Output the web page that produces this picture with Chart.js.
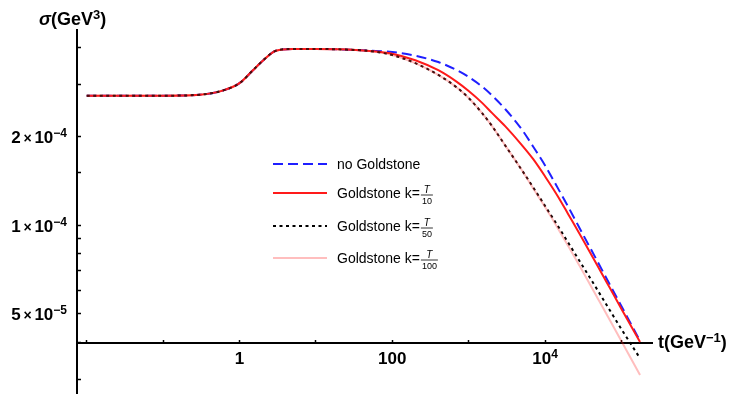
<!DOCTYPE html>
<html>
<head>
<meta charset="utf-8">
<script src="https://cdn.jsdelivr.net/npm/chart.js@4.4.0/dist/chart.umd.min.js"></script>
<style>
  html, body { margin: 0; padding: 0; background: #fff; }
  #wrap { position: relative; width: 732px; height: 394px; }
</style>
</head>
<body>
<div id="wrap"><canvas id="sigmaChart"></canvas></div>
<script>
// t in GeV^-1, sigma in GeV^3
const times = [0.01, 0.03, 0.1, 0.3, 0.6, 1, 1.5, 2, 3, 5, 10, 20, 50,
  100, 200, 400, 700, 1000, 1500, 2000, 3000, 5000, 7000,
  1e4, 1.5e4, 2e4, 3e4, 5e4, 7e4, 1e5, 1.75e5];

const sigmaNoGoldstone = [2.74e-4, 2.74e-4, 2.74e-4, 2.76e-4, 2.85e-4, 3.02e-4, 3.34e-4, 3.59e-4, 3.89e-4, 3.94e-4, 3.94e-4, 3.93e-4, 3.89e-4,
  3.85e-4, 3.74e-4, 3.56e-4, 3.34e-4, 3.17e-4, 2.94e-4, 2.75e-4, 2.47e-4, 2.10e-4, 1.84e-4,
  1.59e-4, 1.32e-4, 1.155e-4, 9.49e-5, 7.42e-5, 6.30e-5, 5.31e-5, 4.05e-5];
const sigmaK10 = [2.74e-4, 2.74e-4, 2.74e-4, 2.76e-4, 2.85e-4, 3.02e-4, 3.34e-4, 3.59e-4, 3.89e-4, 3.94e-4, 3.94e-4, 3.93e-4, 3.88e-4,
  3.80e-4, 3.61e-4, 3.34e-4, 3.05e-4, 2.84e-4, 2.59e-4, 2.40e-4, 2.16e-4, 1.86e-4, 1.67e-4,
  1.46e-4, 1.24e-4, 1.09e-4, 9.09e-5, 7.18e-5, 6.14e-5, 5.20e-5, 4.02e-5];
const sigmaK50 = [2.74e-4, 2.74e-4, 2.74e-4, 2.76e-4, 2.85e-4, 3.02e-4, 3.34e-4, 3.59e-4, 3.89e-4, 3.94e-4, 3.94e-4, 3.93e-4, 3.88e-4,
  3.76e-4, 3.53e-4, 3.22e-4, 2.92e-4, 2.69e-4, 2.39e-4, 2.17e-4, 1.86e-4, 1.53e-4, 1.34e-4,
  1.16e-4, 9.84e-5, 8.73e-5, 7.37e-5, 5.95e-5, 5.16e-5, 4.44e-5, 3.54e-5];
const sigmaK100 = [2.74e-4, 2.74e-4, 2.74e-4, 2.76e-4, 2.85e-4, 3.02e-4, 3.34e-4, 3.59e-4, 3.89e-4, 3.94e-4, 3.94e-4, 3.93e-4, 3.88e-4,
  3.76e-4, 3.53e-4, 3.22e-4, 2.92e-4, 2.69e-4, 2.39e-4, 2.17e-4, 1.86e-4, 1.53e-4, 1.33e-4,
  1.15e-4, 9.66e-5, 8.50e-5, 7.08e-5, 5.59e-5, 4.78e-5, 4.04e-5, 3.11e-5];

const seriesNames = ["no Goldstone", "Goldstone k=", "Goldstone k=", "Goldstone k="];
const kDenominators = ["", "10", "50", "100"];

const xTickValues = [0.01, 0.1, 1, 10, 100, 1000, 1e4, 1e5];
const xTickLabels = ["", "", "1", "", "100", "", "10^4", ""];
const yTickValues = [3e-5, 4e-5, 5e-5, 6e-5, 7e-5, 8e-5, 9e-5, 1e-4, 1.5e-4, 2e-4, 3e-4, 4e-4];
const yTickLabels = ["", "", "5×10^-5", "", "", "", "", "1×10^-4", "", "2×10^-4", "", ""];

const FONT = '"Liberation Sans", Arial, sans-serif';
const BOLD = "bold 17px " + FONT;
const SUP = "bold 12px " + FONT;

function pts(values) {
  return times.map((t, i) => ({ x: t, y: values[i] }));
}

// "2×10^-4" -> pieces [text, font, raise]
function labelParts(str) {
  const [base, exp] = str.split("^");
  const parts = [];
  if (base.includes("×")) {
    const [m, p] = base.split("×");
    parts.push([m, BOLD, 0], ["\u2009×\u2009", "bold 14px " + FONT, 0], [p, BOLD, 0]);
  } else {
    parts.push([base, BOLD, 0]);
  }
  if (exp) parts.push([exp.replace("-", "−"), SUP, 6]);
  return parts;
}

function drawParts(ctx, parts, x, y) {
  parts.forEach(p => {
    ctx.font = p[1];
    ctx.fillText(p[0], x, y - p[2]);
    x += ctx.measureText(p[0]).width;
  });
}

function partsWidth(ctx, parts) {
  return parts.reduce((w, p) => { ctx.font = p[1]; return w + ctx.measureText(p[0]).width; }, 0);
}

// tick labels with real superscripts, placed through the scales
const tickText = {
  id: "tickText",
  afterDraw(chart) {
    const ctx = chart.ctx;
    const xs = chart.scales.x, ys = chart.scales.y;
    const axisY = ys.getPixelForValue(4e-5);
    ctx.save();
    ctx.fillStyle = "#000";
    ctx.textAlign = "left";
    ctx.textBaseline = "alphabetic";
    yTickValues.forEach((v, i) => {
      if (!yTickLabels[i]) return;
      const parts = labelParts(yTickLabels[i]);
      const py = ys.getPixelForValue(v);
      drawParts(ctx, parts, 67 - partsWidth(ctx, parts), py + 6.5);
    });
    xTickValues.forEach((v, i) => {
      if (!xTickLabels[i]) return;
      const parts = labelParts(xTickLabels[i]);
      const px = xs.getPixelForValue(v);
      drawParts(ctx, parts, px - partsWidth(ctx, parts) / 2, axisY + 21);
    });
    ctx.restore();
  }
};

// legend drawn by hand so the k = T/n fractions look right
const fracLegend = {
  id: "fracLegend",
  afterDraw(chart) {
    const ctx = chart.ctx;
    const rowY = [164, 193, 226, 258];
    ctx.save();
    chart.data.datasets.forEach((ds, i) => {
      const y = rowY[i];
      ctx.beginPath();
      ctx.setLineDash(ds.borderDash || []);
      ctx.strokeStyle = ds.borderColor;
      ctx.lineWidth = ds.borderWidth;
      ctx.moveTo(273, y);
      ctx.lineTo(327, y);
      ctx.stroke();
      ctx.setLineDash([]);

      ctx.fillStyle = "#000";
      ctx.font = "14px " + FONT;
      ctx.textBaseline = "alphabetic";
      ctx.textAlign = "left";
      ctx.fillText(seriesNames[i], 337, y + 5);
      if (kDenominators[i]) {
        const x0 = 337 + ctx.measureText(seriesNames[i]).width + 1;
        ctx.font = "9px " + FONT;
        const w = ctx.measureText(kDenominators[i]).width + 2;
        ctx.textAlign = "center";
        ctx.fillText(kDenominators[i], x0 + w / 2, y + 11);
        ctx.font = "italic 10px " + FONT;
        ctx.fillText("T", x0 + w / 2, y);
        ctx.beginPath();
        ctx.lineWidth = 0.8;
        ctx.strokeStyle = "#000";
        ctx.moveTo(x0, y + 2);
        ctx.lineTo(x0 + w, y + 2);
        ctx.stroke();
      }
    });
    ctx.restore();
  }
};

// axis titles with super-scripts
const axisTitles = {
  id: "axisTitles",
  afterDraw(chart) {
    const ctx = chart.ctx;
    ctx.save();
    ctx.fillStyle = "#000";
    ctx.textAlign = "left";
    ctx.textBaseline = "alphabetic";
    drawParts(ctx, [["σ", "italic bold 18px " + FONT, 0], ["(GeV", "bold 18px " + FONT, 0],
      ["3", "bold 13px " + FONT, 6], [")", "bold 18px " + FONT, 0]], 39, 25);
    drawParts(ctx, [["t(GeV", "bold 18px " + FONT, 0], ["−1", "bold 13px " + FONT, 6],
      [")", "bold 18px " + FONT, 0]], 658, 348);
    ctx.restore();
  }
};

new Chart(document.getElementById("sigmaChart"), {
  type: "line",
  data: {
    datasets: [
      { label: "no Goldstone", data: pts(sigmaNoGoldstone), borderColor: "#1f1fff", borderWidth: 2, borderDash: [10, 5], order: 3 },
      { label: "Goldstone k=T/10", data: pts(sigmaK10), borderColor: "#ff1a1a", borderWidth: 2, order: 2 },
      { label: "Goldstone k=T/50", data: pts(sigmaK50), borderColor: "#000000", borderWidth: 2, borderDash: [3, 3.5], order: 1 },
      { label: "Goldstone k=T/100", data: pts(sigmaK100), borderColor: "rgba(255,40,40,0.3)", borderWidth: 2, order: 0 }
    ]
  },
  options: {
    responsive: true,
    maintainAspectRatio: false,
    animation: false,
    layout: { padding: { top: 30, right: 80, bottom: 0, left: 0 } },
    elements: {
      point: { radius: 0 },
      line: { cubicInterpolationMode: "monotone", fill: false }
    },
    plugins: {
      legend: { display: false },
      tooltip: { enabled: false }
    },
    scales: {
      x: {
        type: "logarithmic",
        min: 0.00746,
        max: 2.51e5,
        position: { y: 4e-5 },
        afterBuildTicks: s => { s.ticks = xTickValues.map(v => ({ value: v })); },
        afterFit: s => { s.paddingLeft = 0; s.paddingRight = 0; },
        ticks: { autoSkip: false, maxRotation: 0, callback: () => "" },
        grid: { drawOnChartArea: false, tickLength: -4, tickWidth: 1.5, tickColor: "#000" },
        border: { display: true, color: "#000", width: 2 }
      },
      y: {
        type: "logarithmic",
        min: 2.68e-5,
        max: 4.57e-4,
        position: "left",
        afterBuildTicks: s => { s.ticks = yTickValues.map(v => ({ value: v })); },
        afterFit: s => { s.width = 77; s.paddingTop = 0; s.paddingBottom = 0; },
        ticks: { autoSkip: false, callback: () => "" },
        grid: { drawOnChartArea: false, tickLength: -4, tickWidth: 1.5, tickColor: "#000" },
        border: { display: true, color: "#000", width: 2 }
      }
    }
  },
  plugins: [tickText, fracLegend, axisTitles]
});
</script>
</body>
</html>
